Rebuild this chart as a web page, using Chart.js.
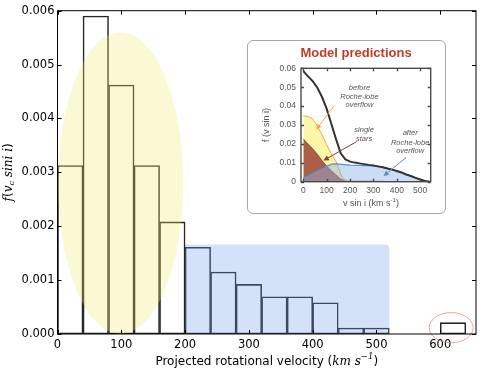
<!DOCTYPE html>
<html>
<head>
<meta charset="utf-8">
<script src="https://cdn.jsdelivr.net/npm/chart.js@4/dist/chart.umd.min.js"></script>
<style>
  html, body { margin: 0; padding: 0; background: #fff; }
  #wrap { position: relative; width: 491px; height: 370px; }
  #inset {
    position: absolute; left: 247px; top: 40px; width: 199px; height: 174px;
    box-sizing: border-box; border: 1px solid #a8a8a8; border-radius: 6px; background: #fff;
  }
  #inset canvas { position: absolute; left: 0; top: 0; }
</style>
</head>
<body>
<div id="wrap">
  <canvas id="main" width="491" height="370"></canvas>
  <div id="inset"><canvas id="model" width="197" height="172"></canvas></div>
</div>
<script>
// histogram (bin start, km/s) and density
const binWidth = 40;
const binStart = [0, 40, 80, 120, 160, 200, 240, 280, 320, 360, 400, 440, 480, 600];
const density = [0.003125, 0.0059, 0.00462, 0.003125, 0.00208, 0.00161, 0.00115, 0.00092, 0.00069, 0.00069, 0.00058, 0.00011, 0.00011, 0.00021];
const xTicks = [0, 100, 200, 300, 400, 500, 600];
const yTicks = [0, 0.001, 0.002, 0.003, 0.004, 0.005, 0.006];

// inset: model predictions
const totalV = [0, 20, 40, 60, 80, 100, 120, 140, 160, 180, 200, 220, 240, 260, 280, 300, 320, 340, 360, 380, 400, 420, 440, 460, 480, 500, 520, 540];
const totalF = [0.0585, 0.0557, 0.0532, 0.0497, 0.0448, 0.0385, 0.0305, 0.0225, 0.015, 0.0118, 0.0106, 0.0101, 0.0097, 0.0093, 0.0089, 0.0086, 0.0081, 0.0076, 0.007, 0.0064, 0.0057, 0.0049, 0.0038, 0.003, 0.002, 0.0012, 0.0004, 0];
const beforeV = [0, 20, 40, 60, 80, 100, 120, 140, 150, 160, 170, 190, 220, 340, 350];
const beforeF = [0.0349, 0.0345, 0.0333, 0.0295, 0.0248, 0.0195, 0.0148, 0.0108, 0.0075, 0.004, 0.0015, 0.0006, 0.0004, 0.0003, 0];
const singleV = [0, 20, 40, 60, 80, 100, 120, 140, 160, 180, 190];
const singleF = [0.0226, 0.02, 0.0175, 0.0145, 0.0112, 0.0082, 0.0058, 0.0035, 0.0014, 0.0003, 0];
const afterV = [0, 120, 140, 200, 300, 340, 380, 420, 460, 500, 520, 540];
const afterF = [0.002, 0.0093, 0.0094, 0.0088, 0.0084, 0.0076, 0.0064, 0.0049, 0.003, 0.0012, 0.0004, 0];
const insetXTicks = [0, 100, 200, 300, 400, 500];
const insetYTicks = [0, 0.01, 0.02, 0.03, 0.04, 0.05, 0.06];

const pts = (xs, ys) => xs.map((v, i) => ({ x: v, y: ys[i] }));

// draws a line of mixed-style text centred on (cx, cy)
function richText(ctx, segs, cx, cy, rot) {
  ctx.save();
  ctx.translate(cx, cy);
  if (rot) ctx.rotate(rot);
  ctx.textBaseline = 'middle';
  ctx.textAlign = 'left';
  let w = 0;
  segs.forEach(s => { ctx.font = s.f; w += ctx.measureText(s.t).width; });
  let x = -w / 2;
  segs.forEach(s => {
    ctx.font = s.f;
    ctx.fillStyle = s.c || '#000';
    ctx.fillText(s.t, x, s.dy || 0);
    x += ctx.measureText(s.t).width;
  });
  ctx.restore();
}

function arrow(ctx, x1, y1, x2, y2, color) {
  const a = Math.atan2(y2 - y1, x2 - x1), h = 6;
  ctx.save();
  ctx.strokeStyle = color; ctx.fillStyle = color; ctx.lineWidth = 1;
  ctx.beginPath(); ctx.moveTo(x1, y1); ctx.lineTo(x2 - Math.cos(a) * 3, y2 - Math.sin(a) * 3); ctx.stroke();
  ctx.beginPath();
  ctx.moveTo(x2, y2);
  ctx.lineTo(x2 - h * Math.cos(a - 0.45), y2 - h * Math.sin(a - 0.45));
  ctx.lineTo(x2 - h * Math.cos(a + 0.45), y2 - h * Math.sin(a + 0.45));
  ctx.closePath(); ctx.fill();
  ctx.restore();
}

function frameAndTicks(ctx, area, xs, ys, len, color, lw) {
  ctx.save();
  ctx.strokeStyle = color; ctx.lineWidth = lw;
  ctx.strokeRect(area.left, area.top, area.right - area.left, area.bottom - area.top);
  ctx.beginPath();
  xs.ticks.forEach(t => {
    const p = Math.round(xs.getPixelForValue(t.value)) + 0.5;
    ctx.moveTo(p, area.bottom); ctx.lineTo(p, area.bottom - len);
    ctx.moveTo(p, area.top); ctx.lineTo(p, area.top + len);
  });
  ys.ticks.forEach(t => {
    const p = Math.round(ys.getPixelForValue(t.value)) + 0.5;
    ctx.moveTo(area.left, p); ctx.lineTo(area.left + len, p);
    ctx.moveTo(area.right, p); ctx.lineTo(area.right - len, p);
  });
  ctx.stroke();
  ctx.restore();
}

// highlight shapes, in data units
const slowGroup = { x: 99, y: 0.0028, rx: 98, ry: 0.0028 };
const fastGroup = { x0: 200, x1: 520, y1: 0.00166 };
const outlier = { x: 617, y: 0.000117, rx: 34.5, ry: 0.00028 };

const mainDeco = {
  id: 'mainDeco',
  afterDatasetsDraw(chart) {
    const { ctx, scales: { x, y } } = chart;
    ctx.save();
    // yellow ellipse
    const cx = x.getPixelForValue(slowGroup.x), cy = y.getPixelForValue(slowGroup.y);
    const rx = x.getPixelForValue(slowGroup.x + slowGroup.rx) - cx;
    const ry = cy - y.getPixelForValue(slowGroup.y + slowGroup.ry);
    ctx.fillStyle = 'rgba(238,236,110,0.3)';
    ctx.beginPath(); ctx.ellipse(cx, cy, rx, ry, 0, 0, Math.PI * 2); ctx.fill();
    // blue box
    const bx0 = x.getPixelForValue(fastGroup.x0), bx1 = x.getPixelForValue(fastGroup.x1);
    const by1 = y.getPixelForValue(fastGroup.y1), by0 = y.getPixelForValue(0);
    ctx.fillStyle = 'rgba(110,160,232,0.3)';
    ctx.beginPath(); ctx.roundRect(bx0, by1, bx1 - bx0, by0 - by1, [0, 4, 0, 0]); ctx.fill();
    // red circle
    const ox = x.getPixelForValue(outlier.x), oy = y.getPixelForValue(outlier.y);
    const orx = x.getPixelForValue(outlier.x + outlier.rx) - ox;
    const ory = oy - y.getPixelForValue(outlier.y + outlier.ry);
    ctx.strokeStyle = 'rgba(232,120,120,0.7)'; ctx.lineWidth = 1;
    ctx.beginPath(); ctx.ellipse(ox, oy, orx, ory, 0, 0, Math.PI * 2); ctx.stroke();
    ctx.restore();
  },
  afterDraw(chart) {
    const { ctx, chartArea: a, scales: { x, y } } = chart;
    frameAndTicks(ctx, a, x, y, 4, '#000', 1);
    const sans = '12px "DejaVu Sans"', it = 'italic 12px "DejaVu Serif"';
    richText(ctx, [
      { t: 'Projected rotational velocity (', f: sans },
      { t: 'km s', f: it },
      { t: '\u22121', f: 'italic 8.5px "DejaVu Serif"', dy: -5 },
      { t: ')', f: sans }
    ], (a.left + a.right) / 2, 362);
    richText(ctx, [
      { t: 'f', f: it }, { t: '(', f: sans }, { t: 'v', f: it },
      { t: 'c', f: 'italic 8px "DejaVu Serif"', dy: 3 },
      { t: ' sini i', f: it }, { t: ')', f: sans }
    ], 9, (a.top + a.bottom) / 2, -Math.PI / 2);
  }
};

new Chart(document.getElementById('main'), {
  type: 'bar',
  data: {
    datasets: [{
      data: pts(binStart.map(s => s + binWidth / 2), density),
      backgroundColor: 'rgba(0,0,0,0)',
      borderColor: '#262626',
      borderWidth: 0.9,
      borderSkipped: false,
      barPercentage: 1,
      categoryPercentage: 1
    }]
  },
  options: {
    responsive: false,
    animation: false,
    events: [],
    layout: { padding: { top: 10.7, right: 15, left: 0, bottom: 0 } },
    plugins: { legend: { display: false }, tooltip: { enabled: false } },
    scales: {
      x: {
        type: 'linear', min: 0, max: 656, offset: false,
        afterBuildTicks: s => { s.ticks = xTicks.map(v => ({ value: v })); },
        afterFit: s => { s.height = 36; },
        grid: { display: false, drawTicks: false, offset: false },
        border: { display: false },
        ticks: { font: { family: 'DejaVu Sans', size: 11.5 }, color: '#000', padding: 4, maxRotation: 0, autoSkip: false }
      },
      y: {
        min: 0, max: 0.006,
        afterBuildTicks: s => { s.ticks = yTicks.map(v => ({ value: v })); },
        afterFit: s => { s.width = 57.5; },
        grid: { display: false, drawTicks: false },
        border: { display: false },
        ticks: { font: { family: 'DejaVu Sans', size: 11.5 }, color: '#000', padding: 3, callback: v => v.toFixed(3) }
      }
    }
  },
  plugins: [mainDeco]
});

// inset annotations, in data units
const notes = [
  { lines: ['before', 'Roche-lobe', 'overflow'], x: 240, y: [0.0494, 0.045, 0.0406] },
  { lines: ['single', 'stars'], x: 260, y: [0.0272, 0.0226] },
  { lines: ['after', 'Roche-lobe', 'overflow'], x: 457, y: [0.0256, 0.0206, 0.0162] }
];
const arrows = [
  { from: [132, 0.0403], to: [55, 0.0275], c: '#f6a842' },
  { from: [228, 0.0212], to: [86, 0.0112], c: '#8c3a34' },
  { from: [440, 0.0128], to: [343, 0.003], c: '#5a8fd6' }
];

const insetDeco = {
  id: 'insetDeco',
  afterDraw(chart) {
    const { ctx, chartArea: a, scales: { x, y } } = chart;
    frameAndTicks(ctx, a, x, y, 3, '#4a4a4a', 1.4);
    ctx.save();
    ctx.fillStyle = '#555'; ctx.textAlign = 'center'; ctx.textBaseline = 'middle';
    ctx.font = 'italic 7.5px "Liberation Sans"';
    notes.forEach(n => n.lines.forEach((l, i) => ctx.fillText(l, x.getPixelForValue(n.x), y.getPixelForValue(n.y[i]))));
    ctx.restore();
    arrows.forEach(r => arrow(ctx, x.getPixelForValue(r.from[0]), y.getPixelForValue(r.from[1]),
      x.getPixelForValue(r.to[0]), y.getPixelForValue(r.to[1]), r.c));
    ctx.save();
    ctx.fillStyle = '#bf3d27'; ctx.textAlign = 'center'; ctx.textBaseline = 'middle';
    ctx.font = 'bold 13px "Liberation Sans"';
    ctx.fillText('Model predictions', 108, 12);
    ctx.restore();
    const f9 = '9px "Liberation Sans"';
    richText(ctx, [
      { t: 'v sin i (km s', f: f9, c: '#555' },
      { t: '-1', f: '6px "Liberation Sans"', c: '#555', dy: -3 },
      { t: ')', f: f9, c: '#555' }
    ], 123, 162.5);
    richText(ctx, [{ t: 'f (v sin i)', f: f9, c: '#555' }], 19, (a.top + a.bottom) / 2, -Math.PI / 2);
  }
};

new Chart(document.getElementById('model'), {
  type: 'line',
  data: {
    datasets: [
      { data: pts(beforeV, beforeF), fill: 'origin', backgroundColor: '#fcf6a8', borderColor: '#f6a842', borderWidth: 1, pointRadius: 0, order: 4 },
      { data: pts(singleV, singleF), fill: 'origin', backgroundColor: 'rgba(150,58,48,0.8)', borderColor: '#8c3a34', borderWidth: 0.8, pointRadius: 0, order: 3 },
      { data: pts(afterV, afterF), fill: 'origin', backgroundColor: 'rgba(140,178,232,0.45)', borderColor: '#5a8fd6', borderWidth: 1.2, pointRadius: 0, order: 2 },
      { data: pts(totalV, totalF), fill: false, borderColor: '#333', borderWidth: 2, pointRadius: 0, order: 1 }
    ]
  },
  options: {
    responsive: false,
    animation: false,
    events: [],
    layout: { padding: { top: 27.3, right: 14.3, left: 0, bottom: 0 } },
    plugins: { legend: { display: false }, tooltip: { enabled: false } },
    scales: {
      x: {
        type: 'linear', min: -10, max: 545,
        afterBuildTicks: s => { s.ticks = insetXTicks.map(v => ({ value: v })); },
        afterFit: s => { s.height = 31.3; },
        grid: { display: false, drawTicks: false },
        border: { display: false },
        ticks: { font: { family: 'Liberation Sans', size: 8.5 }, color: '#555', padding: 4, maxRotation: 0, autoSkip: false }
      },
      y: {
        min: 0, max: 0.06,
        afterBuildTicks: s => { s.ticks = insetYTicks.map(v => ({ value: v })); },
        afterFit: s => { s.width = 53; },
        grid: { display: false, drawTicks: false },
        border: { display: false },
        ticks: { font: { family: 'Liberation Sans', size: 8.5 }, color: '#555', padding: 5, callback: v => v === 0 ? '0' : v.toFixed(2) }
      }
    }
  },
  plugins: [insetDeco]
});
</script>
</body>
</html>
